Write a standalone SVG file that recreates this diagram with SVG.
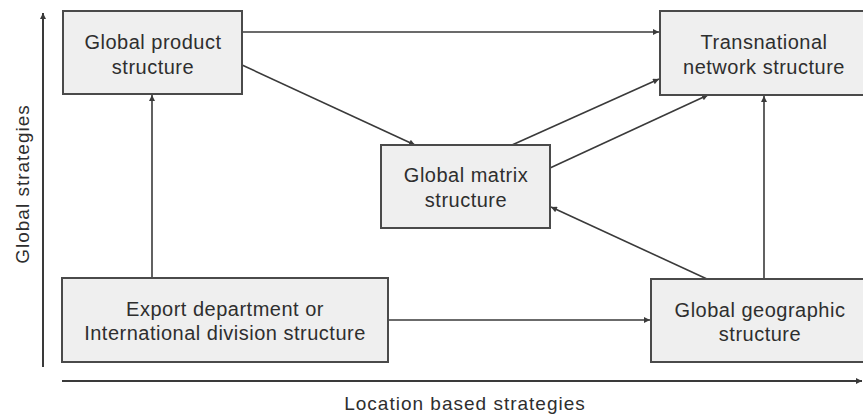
<svg xmlns="http://www.w3.org/2000/svg" width="863" height="416" viewBox="0 0 863 416">
  <defs>
    <marker id="arrow" viewBox="0 0 10 10" refX="10" refY="5" markerWidth="9" markerHeight="6" markerUnits="userSpaceOnUse" orient="auto">
      <path d="M0,0 L10,5 L0,10 Z" fill="#3a3a3a"/>
    </marker>
  </defs>
  <style>
    .box { fill: #efefef; stroke: #4a4a4a; stroke-width: 2; }
    .label { font-family: "Liberation Sans", Arial, sans-serif; font-size: 20px; letter-spacing: 0.5px; fill: #2e2e2e; text-anchor: middle; }
    .axis-label { font-family: "Liberation Sans", Arial, sans-serif; font-size: 19px; letter-spacing: 1px; fill: #2e2e2e; text-anchor: middle; }
    .edge { stroke: #3a3a3a; stroke-width: 1.6; fill: none; marker-end: url(#arrow); }
    .axis { stroke: #3a3a3a; stroke-width: 2; fill: none; marker-end: url(#arrow); }
  </style>
  <rect width="863" height="416" fill="#ffffff"/>

  <!-- axes -->
  <g id="axes">
    <line class="axis" x1="43" y1="367" x2="43" y2="13"/>
    <line class="axis" x1="62" y1="381" x2="862" y2="381"/>
    <text class="axis-label" x="465" y="410">Location based strategies</text>
    <text class="axis-label" transform="translate(29,184) rotate(-90)">Global strategies</text>
  </g>

  <!-- connectors -->
  <g id="connectors">
    <line class="edge" x1="242" y1="32" x2="659" y2="32"/>
    <line class="edge" x1="242" y1="65" x2="415" y2="145"/>
    <line class="edge" x1="512" y1="145" x2="659" y2="79"/>
    <line class="edge" x1="550" y1="168" x2="708" y2="95"/>
    <line class="edge" x1="152" y1="278" x2="152" y2="95"/>
    <line class="edge" x1="388" y1="320" x2="650" y2="320"/>
    <line class="edge" x1="707" y1="279" x2="551" y2="207"/>
    <line class="edge" x1="764" y1="279" x2="764" y2="96"/>
  </g>

  <g id="global-product">
    <rect class="box" x="63" y="11" width="179" height="83"/>
    <text class="label" x="153" y="49">Global product</text>
    <text class="label" x="153" y="74">structure</text>
  </g>

  <g id="transnational-network">
    <rect class="box" x="660" y="11" width="215" height="84"/>
    <text class="label" x="764" y="49">Transnational</text>
    <text class="label" x="764" y="74">network structure</text>
  </g>

  <g id="global-matrix">
    <rect class="box" x="381" y="145" width="169" height="83"/>
    <text class="label" x="466" y="182">Global matrix</text>
    <text class="label" x="466" y="207">structure</text>
  </g>

  <g id="export-international">
    <rect class="box" x="62" y="278" width="326" height="84"/>
    <text class="label" x="225" y="316">Export department or</text>
    <text class="label" x="225" y="340">International division structure</text>
  </g>

  <g id="global-geographic">
    <rect class="box" x="651" y="279" width="224" height="83"/>
    <text class="label" x="760" y="317">Global geographic</text>
    <text class="label" x="760" y="341">structure</text>
  </g>
</svg>
